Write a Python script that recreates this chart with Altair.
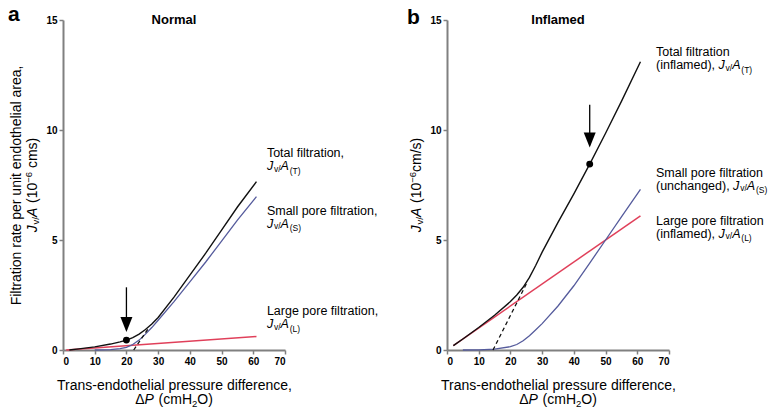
import altair as alt
import pandas as pd

FONT = "Liberation Sans"

# ---------------- data: panel a (Normal) ----------------
a_total_dp = [2, 5, 10, 15, 18, 20, 22, 24, 26, 28, 30, 35, 40, 45, 50, 55, 61]
a_total_jv = [0.0, 0.05, 0.14, 0.27, 0.37, 0.45, 0.56, 0.72, 0.93, 1.18, 1.48, 2.4, 3.4, 4.4, 5.45, 6.5, 7.65]
a_small_dp = [10, 15, 18, 20, 22, 24, 26, 28, 30, 35, 40, 45, 50, 55, 61]
a_small_jv = [0.0, 0.02, 0.06, 0.12, 0.25, 0.45, 0.72, 1.02, 1.35, 2.2, 3.1, 4.0, 4.95, 5.9, 6.97]
a_large_dp = [1, 61]
a_large_jv = [0.0, 0.61]
a_dash_dp = [22.3, 27]
a_dash_jv = [0.0, 1.0]
a_point_dp = [20]
a_point_jv = [0.45]
a_arrow_dp = [20]
a_arrow_top = [2.85]
a_arrow_tip = [0.82]

# ---------------- data: panel b (Inflamed) ----------------
b_total_dp = [2, 5, 10, 15, 20, 22, 24, 26, 28, 30, 35, 40, 45, 50, 55, 61]
b_total_jv = [0.2, 0.5, 1.02, 1.58, 2.2, 2.5, 2.85, 3.3, 3.85, 4.45, 5.8, 7.1, 8.45, 9.85, 11.3, 13.1]
b_small_dp = [5, 10, 15, 20, 22, 24, 26, 28, 30, 35, 40, 45, 50, 55, 61]
b_small_jv = [0.0, 0.01, 0.04, 0.15, 0.25, 0.42, 0.65, 0.92, 1.2, 2.0, 2.92, 3.95, 5.0, 6.05, 7.3]
b_large_dp = [2, 61]
b_large_jv = [0.2, 6.1]
b_dash_dp = [14.5, 25]
b_dash_jv = [0.0, 3.0]
b_point_dp = [45]
b_point_jv = [8.45]
b_arrow_dp = [45]
b_arrow_top = [11.15]
b_arrow_tip = [9.21]

x_ticks = [0, 10, 20, 30, 40, 50, 60, 70]
y_ticks = [0, 5, 10, 15]

# ---------------- layout constants ----------------
W, H = 222, 330
SPACING = 162
LBL = 12.5      # annotation font size
SUB = 8.5       # subscript size
TTL = 14        # axis title size
TSUB = 9.5

COL_T = "#111111"
COL_S = "#555b9c"
COL_L = "#e0405a"

# Arial / Liberation Sans advance widths (per 1000 em)
ADV = {' ': 278, '(': 333, ')': 333, ',': 278, '/': 278, '-': 333, '\u2212': 584,
       'A': 667, 'J': 500, 'L': 556, 'S': 667, 'T': 611, 'P': 667, 'O': 778, 'H': 722,
       '\u0394': 668, 'a': 556, 'c': 500, 'd': 556, 'e': 556, 'f': 278, 'g': 556,
       'h': 556, 'i': 222, 'l': 222, 'm': 833, 'n': 556, 's': 500, 'u': 556, 'v': 500}
for _d in "0123456789":
    ADV[_d] = 556


def tw(s, size):
    return sum(ADV.get(c, 556) for c in s) / 1000.0 * size


def frag_layers(x, y, frags, xenc, yenc, center=False, dx0=0.0, dy0=0.0, angle=0):
    """frags: list of (text, size, italic, dy); italic pieces get a small extra gap"""
    def adv(t, s, ital):
        return tw(t, s) + (0.8 if ital else 0.0)
    total = sum(adv(t, s, i) for t, s, i, _ in frags)
    cur = dx0 - total / 2.0 if center else dx0
    out = []
    for t, s, ital, dy in frags:
        lead = len(t) - len(t.lstrip(' '))
        cur += tw(' ' * lead, s)
        body = t.strip(' ')
        df = pd.DataFrame({"x": [x], "y": [y], "t": [body]})
        kw = dict(align="left", baseline="alphabetic", dx=round(cur, 2),
                  dy=round(dy0 + dy, 2), fontSize=s, font=FONT, color="black")
        if ital:
            kw["fontStyle"] = "italic"
        if angle:
            kw["angle"] = angle
        out.append(alt.Chart(df).mark_text(**kw).encode(x=xenc, y=yenc, text="t:N"))
        cur += adv(t[lead:], s, ital)
    return out


def jva(prefix, sub, size=LBL, small=SUB):
    fr = []
    if prefix:
        fr.append((prefix, size, False, 0))
    fr += [("J", size, True, 0), ("v/", small, False, 1.5),
           ("A", size, True, 0), (sub, small, False, 3.5)]
    return fr


def line(dp, jv, color, width, xenc, yenc, dash=None):
    df = pd.DataFrame({"x": dp, "y": jv})
    kw = dict(color=color, strokeWidth=width)
    if dash:
        kw["strokeDash"] = dash
    return alt.Chart(df).mark_line(**kw).encode(x=xenc, y=yenc)


def panel(letter, title, total, small, large, dash, point, arrow, labels, ytitle1, ytitle2, letter_dx, letter_dy):
    xs = alt.Scale(domain=[0, 70], nice=False, zero=True)
    ys = alt.Scale(domain=[0, 15], nice=False, zero=True)
    xaxis = alt.Axis(values=x_ticks, title="Trans-endothelial pressure difference,",
                     titleX=W / 2, titleY=39, titleAlign="center", titleBaseline="alphabetic",
                     titleFontSize=TTL, titleFontWeight="normal", titleFont=FONT, titleColor="black")
    if ytitle1:
        yaxis = alt.Axis(values=y_ticks, title=ytitle1, titleX=-47, titleY=H / 2, titleAngle=270,
                         titleAlign="center", titleBaseline="middle", titleFontSize=TTL,
                         titleFontWeight="normal", titleFont=FONT, titleColor="black")
    else:
        yaxis = alt.Axis(values=y_ticks, title=None)
    xenc = alt.X("x:Q", scale=xs, axis=xaxis)
    yenc = alt.Y("y:Q", scale=ys, axis=yaxis)

    layers = [
        line(large[0], large[1], COL_L, 1.5, xenc, yenc),
        line(small[0], small[1], COL_S, 1.3, xenc, yenc),
        line(dash[0], dash[1], COL_T, 1.3, xenc, yenc, dash=[4, 3]),
        line(total[0], total[1], COL_T, 1.4, xenc, yenc),
    ]
    # dot
    layers.append(alt.Chart(pd.DataFrame({"x": point[0], "y": point[1]}))
                  .mark_circle(size=48, color="black", opacity=1).encode(x=xenc, y=yenc))
    # arrow
    adf = pd.DataFrame({"x": arrow[0], "y": arrow[1], "y2": [v + 0.1 for v in arrow[2]]})
    layers.append(alt.Chart(adf).mark_rule(color="black", strokeWidth=1.3)
                  .encode(x=xenc, y=yenc, y2="y2:Q"))
    tdf = pd.DataFrame({"x": arrow[0], "y": arrow[2]})
    layers.append(alt.Chart(tdf).mark_point(shape="M-0.8,-2L0.8,-2L0,0Z", filled=True, size=225,
                                            color="black", opacity=1, strokeWidth=0)
                  .encode(x=xenc, y=yenc))
    # panel letter and title
    layers.append(alt.Chart(pd.DataFrame({"x": [0], "y": [15], "t": [letter]}))
                  .mark_text(align="left", baseline="alphabetic", dx=letter_dx, dy=letter_dy,
                             fontSize=21, fontWeight="bold", font=FONT, color="black")
                  .encode(x=xenc, y=yenc, text="t:N"))
    layers.append(alt.Chart(pd.DataFrame({"x": [35], "y": [15], "t": [title]}))
                  .mark_text(align="center", baseline="alphabetic", dy=4,
                             fontSize=13, fontWeight="bold", font=FONT, color="black")
                  .encode(x=xenc, y=yenc, text="t:N"))
    # curve labels
    for lx, ly, frags in labels:
        layers += frag_layers(lx, ly, frags, xenc, yenc)
    # x title line 2
    layers += frag_layers(35, 0, [("\u0394", TTL, False, 0), ("P", TTL, True, 0), (" (cmH", TTL, False, 0),
                                  ("2", TSUB, False, 3), ("O)", TTL, False, 0)],
                          xenc, yenc, center=True, dy0=54)
    # y title line 2 (rotated)
    layers += frag_layers(0, 7.5, ytitle2, xenc, yenc, center=True, dy0=-26, angle=270)
    return alt.layer(*layers).properties(width=W, height=H)


labels_a = [
    (64.3, 8.76, [("Total filtration,", LBL, False, 0)]),
    (64.3, 8.17, jva("", "(T)")),
    (64.3, 6.15, [("Small pore filtration,", LBL, False, 0)]),
    (64.3, 5.56, jva("", "(S)")),
    (64.3, 1.57, [("Large pore filtration,", LBL, False, 0)]),
    (64.3, 0.98, jva("", "(L)")),
]
labels_b = [
    (65.9, 13.35, [("Total filtration", LBL, False, 0)]),
    (65.9, 12.76, jva("(inflamed), ", "(T)")),
    (65.9, 7.88, [("Small pore filtration", LBL, False, 0)]),
    (65.9, 7.29, jva("(unchanged), ", "(S)")),
    (65.9, 5.69, [("Large pore filtration", LBL, False, 0)]),
    (65.9, 5.10, jva("(inflamed), ", "(L)")),
]

ytitle_a = [("J", TTL, True, 0), ("v/", TSUB, False, 2), ("A", TTL, True, 0), (" (10", TTL, False, 0),
            ("\u22126", TSUB, False, -5), (" cms)", TTL, False, 0)]
ytitle_b = [("J", TTL, True, 0), ("v/", TSUB, False, 2), ("A", TTL, True, 0), (" (10", TTL, False, 0),
            ("\u22126", TSUB, False, -5), ("cm/s)", TTL, False, 0)]

pa = panel("a", "Normal",
           (a_total_dp, a_total_jv), (a_small_dp, a_small_jv), (a_large_dp, a_large_jv),
           (a_dash_dp, a_dash_jv), (a_point_dp, a_point_jv),
           (a_arrow_dp, a_arrow_top, a_arrow_tip), labels_a,
           "Filtration rate per unit endothelial area,", ytitle_a, -55, 1)
pb = panel("b", "Inflamed",
           (b_total_dp, b_total_jv), (b_small_dp, b_small_jv), (b_large_dp, b_large_jv),
           (b_dash_dp, b_dash_jv), (b_point_dp, b_point_jv),
           (b_arrow_dp, b_arrow_top, b_arrow_tip), labels_b,
           None, ytitle_b, -40, 4)

chart = (alt.hconcat(pa, pb, spacing=SPACING, bounds="flush")
         .properties(padding={"top": -4, "left": 0, "right": 0, "bottom": 0})
         .configure_view(strokeWidth=0)
         .configure_axis(grid=False, domainColor="#808080", domainWidth=2, tickColor="#808080",
                         tickWidth=1.5, tickSize=4, labelFont=FONT, labelFontWeight="bold",
                         labelFontSize=10, labelColor="black", labelPadding=2))

chart.save("out.html", embed_options={"renderer": "svg", "actions": False})
